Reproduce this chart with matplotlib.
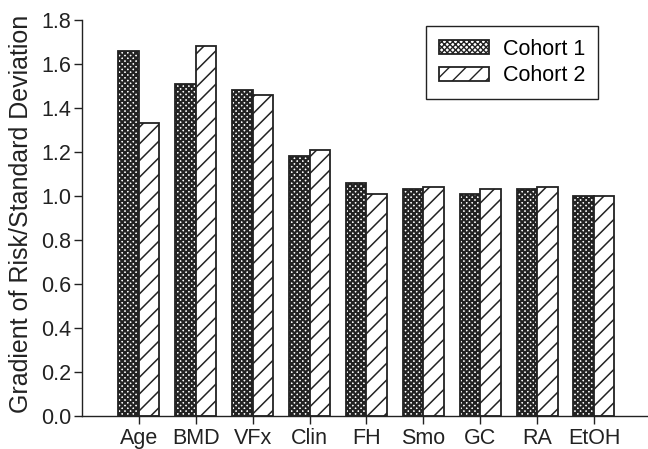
import matplotlib
matplotlib.use("Agg")
import matplotlib.pyplot as plt
import numpy as np

plt.rcParams['font.family'] = ['Liberation Sans', 'DejaVu Sans']

categories = ["Age", "BMD", "VFx", "Clin", "FH", "Smo", "GC", "RA", "EtOH"]
cohort1 = [1.66, 1.51, 1.48, 1.18, 1.06, 1.03, 1.01, 1.03, 1.00]
cohort2 = [1.33, 1.68, 1.46, 1.21, 1.01, 1.04, 1.03, 1.04, 1.00]
yticks = [0.0, 0.2, 0.4, 0.6, 0.8, 1.0, 1.2, 1.4, 1.6, 1.8]

W, H = 648, 449
fig = plt.figure(figsize=(W / 100, H / 100), dpi=100)
ax = fig.add_axes([82 / W, 1 - 416 / H, (648 - 82) / W, (416 - 20) / H])

x = np.arange(len(categories))
w = 0.36
ec = '#222222'
with plt.rc_context({'hatch.linewidth': 1.6}):
    b1 = ax.bar(x - w/2, cohort1, w, facecolor='white', edgecolor=ec,
                hatch='xxxxxx', linewidth=1.3, label='Cohort 1')
with plt.rc_context({'hatch.linewidth': 1.1}):
    b2 = ax.bar(x + w/2, cohort2, w, facecolor='white', edgecolor=ec,
                hatch='//', linewidth=1.3, label='Cohort 2')

ax.set_xlim(-1.0, 8.95)
ax.set_ylim(0, 1.8)
ax.set_xticks(x)
ax.set_xticklabels(categories)
ax.set_yticks(yticks)
ax.set_yticklabels([f"{v:.1f}" for v in yticks])
ax.tick_params(axis='both', labelsize=15.5, direction='out', length=6, width=1,
               colors=ec)
ax.tick_params(axis='x', pad=2.5)
ax.tick_params(axis='y', pad=2)
ax.set_ylabel("Gradient of Risk/Standard Deviation", fontsize=18, color=ec)
ax.yaxis.set_label_coords(-0.0866, 0.51)
for s in ['top', 'right']:
    ax.spines[s].set_visible(False)
for s in ['left', 'bottom']:
    ax.spines[s].set_linewidth(1)
    ax.spines[s].set_color(ec)

leg = ax.legend(loc='upper right', bbox_to_anchor=(598 / W, 1 - 26 / H),
                bbox_transform=fig.transFigure, fontsize=15.5,
                frameon=True, fancybox=False, edgecolor=ec, framealpha=1,
                handlelength=2.3, handleheight=0.6, handletextpad=0.65,
                borderpad=0.6, labelspacing=0.25, borderaxespad=0)
leg.get_frame().set_linewidth(1)

fig.savefig("out.png", dpi=100)
